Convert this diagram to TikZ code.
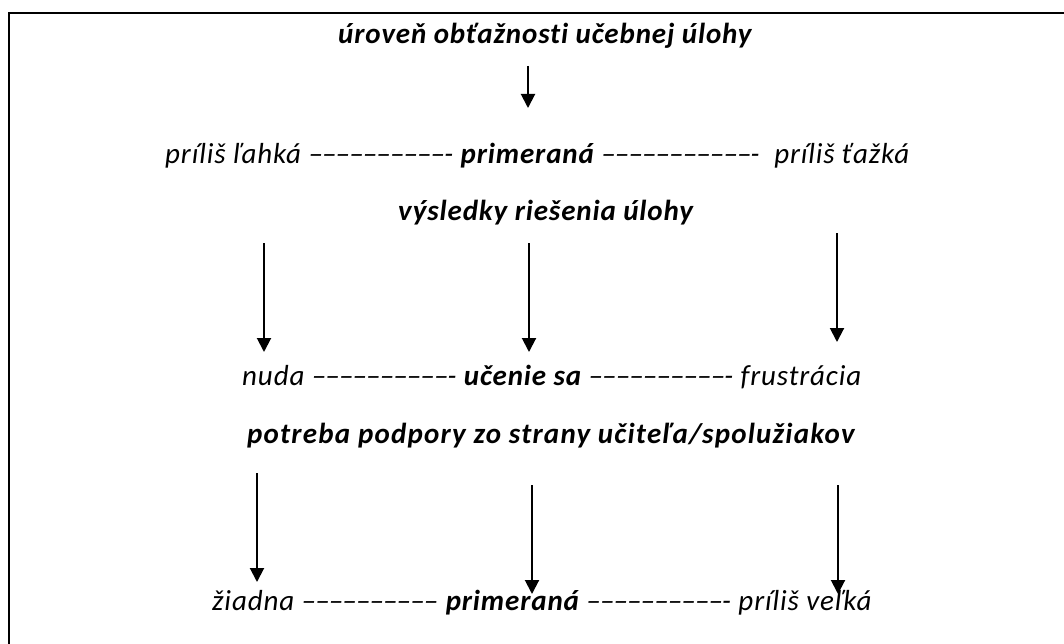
\documentclass[tikz,border=0pt]{standalone}
\usepackage{fontspec}
\setmainfont{Carlito}[LetterSpace=3,Ligatures=NoCommon]
\newcommand{\dashrun}[1]{{\addfontfeature{LetterSpace=-3}#1}}
\usetikzlibrary{arrows.meta}
\begin{document}
\begin{tikzpicture}[x=1pt,y=-1pt,
  txt/.style={inner sep=0pt, anchor=mid west, font=\fontsize{29}{33}\selectfont\itshape},
  arr/.style={line width=2pt, -{Triangle[width=14pt,length=14pt]}}]
\useasboundingbox (0,0) rectangle (1064,644);
\draw[line width=2.4pt] (9,13) rectangle (1080,660);
% texts
\node[txt] (title) at (338,41) {\bfseries úroveň obťažnosti učebnej úlohy};
\node[txt] (row1) at (165,161) {príliš ľahká \dashrun{––––––––––-} \textbf{primeraná} \dashrun{–––––––––––-}~~príliš ťažká};
\node[txt] (res) at (398,218) {\bfseries výsledky riešenia úlohy};
\node[txt] (row2) at (242,383) {nuda \dashrun{––––––––––-} \textbf{učenie sa} \dashrun{––––––––––-} frustrácia};
\node[txt] (need) at (247,441) {\bfseries\addfontfeature{LetterSpace=4.2}potreba podpory zo strany učiteľa/spolužiakov};
\node[txt] (row3) at (212,608) {žiadna \dashrun{––––––––––} \textbf{primeraná} \dashrun{––––––––––-} príliš veľká};
% arrow ends
\coordinate (a0s) at (528,66);  \coordinate (a0e) at (528,108);
\coordinate (a1s) at (264,243); \coordinate (a1e) at (264,352);
\coordinate (a2s) at (529,243); \coordinate (a2e) at (529,352);
\coordinate (a3s) at (837,233); \coordinate (a3e) at (837,342);
\coordinate (a4s) at (257,473); \coordinate (a4e) at (257,582);
\coordinate (a5s) at (532,485); \coordinate (a5e) at (532,594);
\coordinate (a6s) at (838,485); \coordinate (a6e) at (838,594);
\draw[arr] (a0s) -- (a0e);
\draw[arr] (a1s) -- (a1e);
\draw[arr] (a2s) -- (a2e);
\draw[arr] (a3s) -- (a3e);
\draw[arr] (a4s) -- (a4e);
\draw[arr] (a5s) -- (a5e);
\draw[arr] (a6s) -- (a6e);
\end{tikzpicture}
\end{document}
